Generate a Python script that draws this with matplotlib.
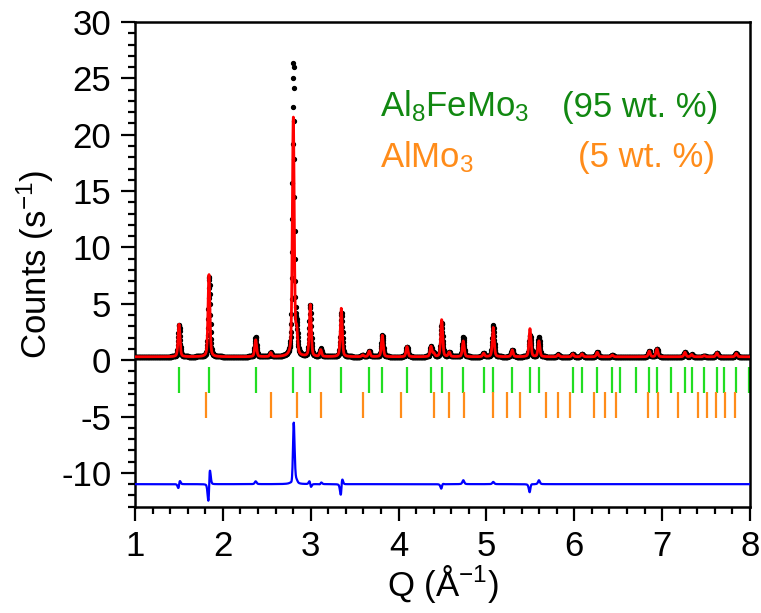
# Rietveld refinement plot of Al8FeMo3 / AlMo3
import numpy as np
import matplotlib
matplotlib.use('Agg')
import matplotlib.pyplot as plt
from matplotlib.ticker import MultipleLocator

plt.rcParams['font.family'] = ['Liberation Sans', 'DejaVu Sans']
plt.rcParams['mathtext.default'] = 'regular'
plt.rcParams['axes.unicode_minus'] = False

# reflection positions (Q, 1/A)
al8femo3_refl = [1.501, 1.842, 2.374, 2.802, 2.995, 3.348, 3.667, 3.815, 4.096, 4.369,
                 4.491, 4.737, 4.969, 5.078, 5.294, 5.496, 5.598, 5.982, 6.088, 6.262,
                 6.433, 6.520, 6.699, 6.854, 6.941, 7.097, 7.260, 7.336, 7.480, 7.624,
                 7.700, 7.844, 7.988]
almo3_refl = [1.805, 2.545, 2.840, 3.114, 3.592, 4.024, 4.400, 4.577, 4.748, 5.078,
              5.234, 5.385, 5.681, 5.818, 5.955, 6.224, 6.346, 6.471, 6.839, 6.956,
              7.184, 7.404, 7.507, 7.616, 7.719, 7.829]

peak_q = [1.501, 1.842, 2.374, 2.545, 2.802, 2.840, 2.995, 3.114, 3.348, 3.592,
          3.667, 3.815, 4.096, 4.369, 4.400, 4.491, 4.577, 4.737, 4.969, 5.078,
          5.294, 5.496, 5.598, 5.818, 5.982, 6.088, 6.262, 6.433, 6.854, 6.941,
          7.260, 7.336, 7.480, 7.624, 7.844]
calc_h = [2.9, 7.3, 1.5, 0.35, 21.2, 2.0, 4.6, 0.6, 4.3, 0.15,
          0.5, 1.9, 0.9, 0.9, 0.3, 3.3, 0.4, 1.4, 0.3, 2.6,
          0.6, 2.5, 1.4, 0.2, 0.25, 0.25, 0.4, 0.15, 0.5, 0.7,
          0.4, 0.2, 0.1, 0.35, 0.3]
obs_h = [2.85, 7.1, 1.75, 0.35, 26.0, 2.2, 4.6, 0.7, 3.9, 0.15,
         0.5, 1.9, 0.9, 0.9, 0.3, 3.0, 0.4, 1.75, 0.3, 2.8,
         0.6, 1.9, 1.75, 0.2, 0.25, 0.25, 0.4, 0.15, 0.5, 0.7,
         0.4, 0.2, 0.1, 0.35, 0.3]
obs_shift = [0.002, 0.0035, 0.0, 0.0, 0.0012, 0.0, -0.001, 0.002, 0.003, 0.0,
             0.0, 0.0, 0.0, 0.0, 0.0, 0.001, 0.0, 0.0, 0.0, 0.0,
             0.0, 0.002, 0.0, 0.0, 0.0, 0.0, 0.0, 0.0, 0.0, 0.0,
             0.0, 0.0, 0.0, 0.0, 0.0]
background = 0.3
diff_offset = -11
fwhm = 0.025
eta = 0.4


def pvoigt(x, x0, h):
    g = np.exp(-4 * np.log(2) * ((x - x0) / fwhm) ** 2)
    l = 1 / (1 + 4 * ((x - x0) / fwhm) ** 2)
    return h * (eta * l + (1 - eta) * g)


q = np.arange(1, 8.0001, 0.0025)
calc = np.full_like(q, background)
obs = np.full_like(q, background)
for i in range(len(peak_q)):
    calc += pvoigt(q, peak_q[i], calc_h[i])
    obs += pvoigt(q, peak_q[i] + obs_shift[i], obs_h[i])
diff = obs - calc + diff_offset

fig = plt.figure(figsize=(7.61, 6.13), dpi=100)
ax = fig.add_axes([0.1774, 0.1734, 0.8081, 0.7907])

ax.plot(q, obs, 'o', ms=2.8, color='black', zorder=2)
ax.plot(q, calc, '-', lw=2.0, color='red', zorder=3)
ax.vlines(al8femo3_refl, -2.95, -0.6, color='#22dd22', lw=1.6)
ax.vlines(almo3_refl, -5.1, -2.8, color='#ff8c1a', lw=1.6)
ax.plot(q, diff, '-', lw=1.6, color='blue', zorder=3)

ax.text(3.79, 21.6, 'Al$_8$FeMo$_3$', color='#118811', fontsize=25)
ax.text(5.86, 21.6, '(95 wt. %)', color='#118811', fontsize=25)
ax.text(3.79, 17.15, 'AlMo$_3$', color='#ff8c1a', fontsize=25)
ax.text(6.04, 17.15, '(5 wt. %)', color='#ff8c1a', fontsize=25)

# axes
ax.set_xlim(1, 8)
ax.set_ylim(-13, 30)
ax.xaxis.set_major_locator(MultipleLocator(1))
ax.xaxis.set_minor_locator(MultipleLocator(0.2))
ax.yaxis.set_major_locator(MultipleLocator(5))
ax.yaxis.set_minor_locator(MultipleLocator(1))
ax.tick_params(which='major', length=10, width=1.6, labelsize=25, pad=7, direction='out')
ax.tick_params(which='minor', length=5, width=1.6, direction='out')
for s in ax.spines.values():
    s.set_linewidth(1.8)
ax.set_xlabel('Q (Å$^{-1}$)', fontsize=25, labelpad=0)
ax.set_ylabel('Counts (s$^{-1}$)', fontsize=25, labelpad=4)

plt.savefig('out.png', dpi=100)
plt.close()
